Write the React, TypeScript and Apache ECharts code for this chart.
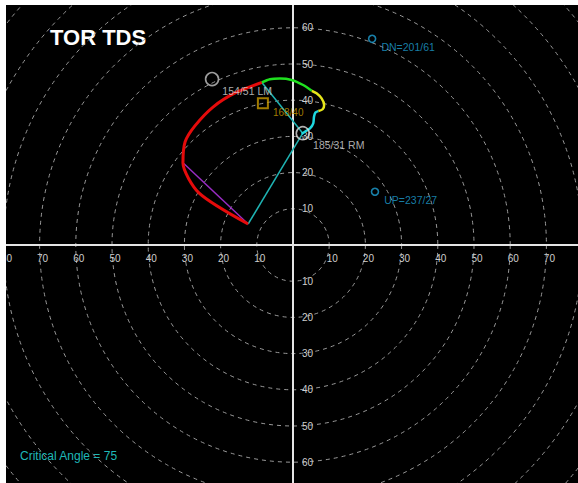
import React, { useEffect, useRef } from "react";
import * as echarts from "echarts";

// Hodograph traces by height layer, [u, v] in knots
const layerRed = [
  [-12.4, 5.8], [-26.0, 14.4], [-30.4, 22.7], [-29.8, 28.5], [-27.1, 32.9],
  [-22.1, 38.1], [-16.0, 42.0], [-8.6, 44.9],
];
const layerGreen = [[-8.6, 44.9], [-6.4, 45.8], [-3.6, 46.0], [-0.4, 45.6], [2.8, 44.2], [5.2, 42.6]];
const layerYellow = [[5.2, 42.6], [6.5, 41.9], [7.9, 40.5], [8.6, 38.7], [8.2, 37.5], [7.0, 37.0]];
const layerCyan = [[7.0, 37.0], [6.2, 36.6], [5.8, 35.4], [5.6, 33.6], [4.7, 32.2], [3.3, 31.3], [2.4, 30.7]];

// Bunkers storm motions: direction (deg) / speed (kt)
const stormNames = ["LM", "RM"];
const stormDirs = [154, 185];
const stormSpeeds = [51, 31];

// 0-6 km mean wind
const meanWindDir = 168;
const meanWindSpd = 40;

// Corfidi vectors
const corfidiNames = ["DN", "UP"];
const corfidiDirs = [201, 237];
const corfidiSpeeds = [61, 27];

const criticalAngle = 75;

// Axis tick settings (knots)
const ringMax = 110;
const ringStep = 10;
const xRange = [-80, 80];
const yRange = [-70, 70];
const xLabelMaxRight = 70;
const yLabelMax = 60;

const toUV = (dir: number, spd: number) => {
  const r = (dir * Math.PI) / 180;
  return [-spd * Math.sin(r), -spd * Math.cos(r)];
};

const FONT = '"Liberation Sans", Arial, sans-serif';

export default function App() {
  const ref = useRef<HTMLDivElement>(null);

  useEffect(() => {
    if (!ref.current) return;
    const chart = echarts.init(ref.current, null, { renderer: "svg" });

    const cx = 287;
    const cy = 240;
    const pxPerKt = 3.62;

    const rm = toUV(stormDirs[1], stormSpeeds[1]);
    const surface = layerRed[0];
    const halfKm = layerRed[2];
    const topRed = layerRed[layerRed.length - 1];

    const absLabelX = (v: number) => (v === 0 || v > xLabelMaxRight ? "" : String(Math.abs(v)));
    const absLabelY = (v: number) => (v === 0 || Math.abs(v) > yLabelMax ? "" : String(Math.abs(v)));

    const layerSeries = (data: number[][], color: string, width: number) => ({
      type: "line",
      data,
      symbol: "none",
      smooth: 0.25,
      lineStyle: { color, width },
      z: 3,
    });

    const plainLine = (data: number[][], color: string) => ({
      type: "line",
      data,
      symbol: "none",
      lineStyle: { color, width: 1.5 },
      z: 2,
    });

    const storms = stormNames.map((name, i) => ({
      value: toUV(stormDirs[i], stormSpeeds[i]),
      label: `${stormDirs[i]}/${stormSpeeds[i]} ${name}`,
    }));

    const corfidi = corfidiNames.map((name, i) => ({
      value: toUV(corfidiDirs[i], corfidiSpeeds[i]),
      label: `${name}=${corfidiDirs[i]}/${corfidiSpeeds[i]}`,
    }));

    chart.setOption({
      animation: false,
      backgroundColor: "#000",
      polar: { center: [cx, cy], radius: ringMax * pxPerKt },
      angleAxis: {
        type: "value",
        show: true,
        axisLine: { show: false },
        axisTick: { show: false },
        axisLabel: { show: false },
        splitLine: { show: false },
      },
      radiusAxis: {
        type: "value",
        min: 0,
        max: ringMax,
        interval: ringStep,
        axisLine: { show: false },
        axisTick: { show: false },
        axisLabel: { show: false },
        splitLine: { show: true, lineStyle: { color: "#9a9a9a", width: 1, type: [4, 4] } },
      },
      grid: {
        left: cx + xRange[0] * pxPerKt,
        top: cy - yRange[1] * pxPerKt,
        width: (xRange[1] - xRange[0]) * pxPerKt,
        height: (yRange[1] - yRange[0]) * pxPerKt,
        containLabel: false,
        outerBoundsMode: "none",
      },
      xAxis: {
        type: "value",
        position: "bottom",
        offset: yRange[0] * pxPerKt,
        min: xRange[0],
        max: xRange[1],
        interval: ringStep,
        axisLine: { show: true, onZero: false, lineStyle: { color: "#e4e4e4", width: 2 } },
        axisTick: { show: false },
        splitLine: { show: false },
        axisLabel: {
          formatter: absLabelX,
          color: "#cfcfcf",
          fontSize: 10,
          fontFamily: FONT,
          margin: 8,
          padding: [0, 0, 0, 6],
        },
      },
      yAxis: {
        type: "value",
        position: "left",
        offset: xRange[0] * pxPerKt,
        min: yRange[0],
        max: yRange[1],
        interval: ringStep,
        axisLine: { show: true, onZero: false, lineStyle: { color: "#e4e4e4", width: 2 } },
        axisTick: { show: false },
        splitLine: { show: false },
        axisLabel: {
          inside: true,
          formatter: absLabelY,
          color: "#cfcfcf",
          fontSize: 10,
          fontFamily: FONT,
          margin: 9,
          padding: [3, 0, 0, 0],
        },
      },
      graphic: [
        {
          type: "text",
          left: 44,
          top: 21,
          style: { text: "TOR TDS", fill: "#ffffff", font: `bold 22px ${FONT}` },
        },
        {
          type: "text",
          left: 14,
          top: 445,
          style: { text: `Critical Angle = ${criticalAngle}`, fill: "#1fb8b8", font: `12px ${FONT}` },
        },
      ],
      series: [
        plainLine([surface, halfKm], "#9a2cc4"),
        plainLine([surface, rm], "#1fb3b3"),
        plainLine([topRed, rm], "#1fb3b3"),
        layerSeries(layerRed, "#e50b0b", 3),
        layerSeries(layerGreen, "#1fe01f", 2.5),
        layerSeries(layerYellow, "#e6e61a", 2.5),
        layerSeries(layerCyan, "#1ed8e0", 2.5),
        {
          type: "scatter",
          symbol: "circle",
          symbolSize: 13,
          data: storms.map((s, i) => ({
            value: s.value,
            itemStyle: { color: "rgba(0,0,0,0)", borderColor: i === 0 ? "#c4c4c4" : "#dcdcdc", borderWidth: 1.6 },
          })),
          label: {
            show: true,
            position: "right",
            distance: 3,
            offset: [0, 12],
            formatter: (p: any) => storms[p.dataIndex].label,
            color: "#dadada",
            fontSize: 10.5,
            fontFamily: FONT,
          },
          z: 4,
        },
        {
          type: "scatter",
          symbol: "rect",
          symbolSize: 10,
          data: [toUV(meanWindDir, meanWindSpd)],
          itemStyle: { color: "rgba(0,0,0,0)", borderColor: "#c99a00", borderWidth: 2 },
          label: {
            show: true,
            position: "right",
            distance: 4,
            offset: [0, 9],
            formatter: `${meanWindDir}/${meanWindSpd}`,
            color: "#c99a00",
            fontSize: 10,
            fontFamily: FONT,
          },
          z: 4,
        },
        {
          type: "scatter",
          symbol: "circle",
          symbolSize: 7,
          data: corfidi.map((c) => c.value),
          itemStyle: { color: "rgba(0,0,0,0)", borderColor: "#1e9fd2", borderWidth: 1.6 },
          label: {
            show: true,
            position: "right",
            distance: 5,
            offset: [0, 8],
            formatter: (p: any) => corfidi[p.dataIndex].label,
            color: "#1e9fd2",
            fontSize: 10.5,
            fontFamily: FONT,
          },
          z: 4,
        },
      ],
    });

    return () => chart.dispose();
  }, []);

  return (
    <div
      ref={ref}
      style={{ position: "fixed", left: 6, top: 5, width: 572, height: 478 }}
    />
  );
}
